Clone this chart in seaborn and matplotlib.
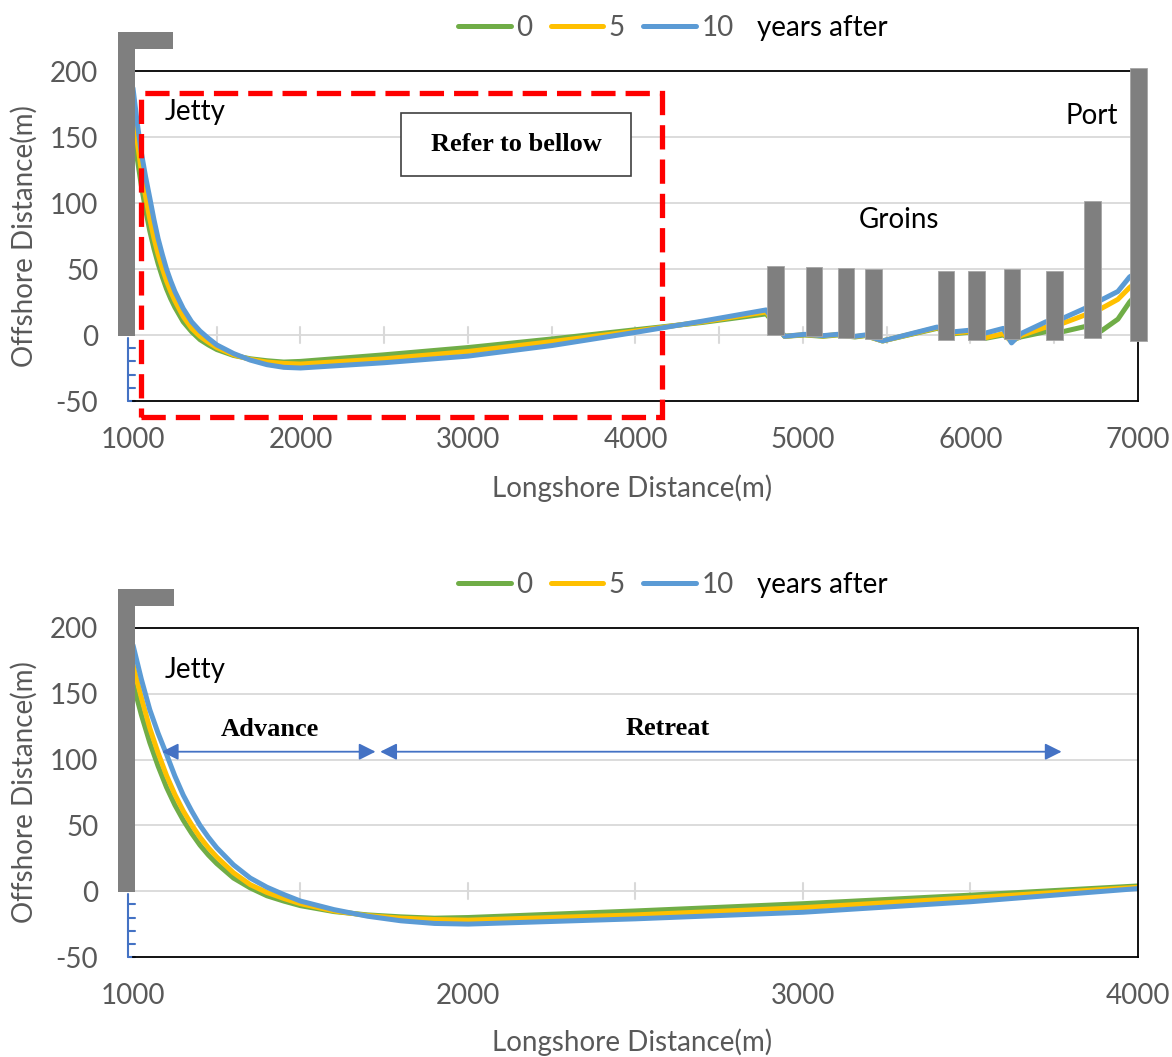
import numpy as np
import pandas as pd
import matplotlib
matplotlib.use("Agg")
import matplotlib.pyplot as plt
import seaborn as sns
from matplotlib.lines import Line2D
from matplotlib.patches import Rectangle
from matplotlib.transforms import blended_transform_factory

# ---------------- data ----------------
years = ["0", "5", "10"]
line_colors = ["#70AD47", "#FFC000", "#5B9BD5"]

x_near = [1000, 1025, 1050, 1075, 1100, 1125, 1150, 1175, 1200, 1225, 1250, 1300,
          1350, 1400, 1450, 1500, 1600, 1700, 1800, 1900, 2000, 2500, 3000, 3500, 4000]
y0_near = [158, 134, 113, 95, 79, 65.5, 54, 44, 35, 27.5, 21, 10,
           2.5, -3.5, -7.5, -11, -15.5, -18, -19.5, -20.5, -20, -15, -9.5, -3, 4]
y5_near = [172, 147, 124, 105, 88, 73.5, 61, 50.5, 41, 33, 26, 14,
           5, -1, -5.5, -9.5, -15, -18.5, -20.5, -21.5, -22, -18, -12.5, -5, 3]
y10_near = [187, 161, 138, 120, 104, 87.5, 73, 61, 50, 41, 33, 20,
            10, 3, -2.5, -7.5, -14, -19, -22.5, -24.5, -25, -21, -16, -8, 2]

x_far = [4400, 4780, 4890, 5010, 5120, 5205, 5310, 5370, 5475, 5800, 5905, 5985,
         6090, 6195, 6245, 6300, 6450, 6550, 6680, 6780, 6880, 6950, 7000]
y0_far = [9.5, 16, -1, 0, -1, 0, -1.5, -0.5, -4.5, 5, 1, 2,
          -2.5, 0, -4, -1.5, 2.5, 2.5, 6.3, 3, 12, 25, 32]
y5_far = [10, 17.5, -1, 0.3, -0.7, 0.3, -1.2, -0.3, -4.5, 5.5, 1.5, 2.5,
          -2, 1, -5, -0.5, 6, 8.8, 15, 20, 27, 36, 41]
y10_far = [10.5, 19, -1, 0.5, -0.5, 0.5, -1, 0, -4.5, 6, 2.5, 3.5,
           1.5, 5, -6, 1, 10, 12.6, 20, 26.5, 33, 44, 48]

# groins and port (centre x, top, bottom) in metres
groin_x = [4836, 5066, 5257, 5421, 5854, 6036, 6248, 6501, 6729, 7005]
groin_top = [52.5, 51.7, 50.7, 49.7, 48.7, 48.7, 49.7, 48.7, 101.7, 202]
groin_bottom = [0, -1, -2, -3, -4, -4, -3, -4, -2, -4.3]
groin_width = 100

# jetty per panel: left, stem right, arm right, bottom, arm bottom, top
jetty_top = [912, 1012, 1239, -0.5, 217, 229.7]
jetty_bottom = [956, 1006, 1122, -0.5, 217, 230]

x_ticks_top = [1000, 2000, 3000, 4000, 5000, 6000, 7000]
x_ticks_bottom = [1000, 2000, 3000, 4000]
y_ticks = [-50, 0, 50, 100, 150, 200]

# ---------------- style ----------------
sns.set_style("white")
plt.rcParams["font.family"] = ["Lato", "DejaVu Sans"]
plt.rcParams["axes.unicode_minus"] = False
FS = 20
FS_SERIF = 19
GREY_TXT = "#595959"
GRID = "#D9D9D9"
BAR = "#7F7F7F"
ARROW = "#4472C4"
LW = 3.6


def make_df(xs, ys_list):
    frames = []
    for yr, ys in zip(years, ys_list):
        frames.append(pd.DataFrame({"x": xs, "y": ys, "year": yr}))
    return pd.concat(frames, ignore_index=True)


df_top = make_df(x_near + x_far,
                 [y0_near + y0_far, y5_near + y5_far, y10_near + y10_far])
df_bot = make_df(x_near, [y0_near, y5_near, y10_near])

fig = plt.figure(figsize=(11.72, 10.57), dpi=100)
W, H = 1172, 1057
ax1 = fig.add_axes([133 / W, 1 - 401 / H, 1005 / W, 330 / H])
ax2 = fig.add_axes([133 / W, 1 - 957 / H, 1005 / W, 329 / H])


def style_axes(ax, xlim, xticks, jetty):
    ax.set_xlim(*xlim)
    ax.set_ylim(-50, 200)
    ax.set_xticks(xticks)
    ax.set_yticks(y_ticks)
    ax.tick_params(axis="both", length=0, labelsize=FS, labelcolor=GREY_TXT)
    ax.tick_params(axis="y", pad=25)
    ax.tick_params(axis="x", pad=19)
    for s in ax.spines.values():
        s.set_color("black")
        s.set_linewidth(1.3)
    ax.spines["left"].set_visible(False)
    for yv in [0, 50, 100, 150]:
        ax.axhline(yv, color=GRID, lw=1.3, zorder=0)
    # small ticks along the zero line every 500 m
    for xv in np.arange(xlim[0] + 500, xlim[1], 500):
        ax.plot([xv, xv], [-6, 6], color=GRID, lw=1.5, zorder=0)
    # blue secondary-axis stub
    tr = blended_transform_factory(ax.transAxes, ax.transData)
    ax.plot([-0.0053, -0.0053], [-2, -50], color=ARROW, lw=1.5, transform=tr,
            clip_on=False, zorder=1)
    for yv in [-10, -20, -30, -40, -50]:
        ax.plot([-0.0053, 0.002], [yv, yv], color=ARROW, lw=1.5, transform=tr,
                clip_on=False, zorder=1)
    ax.set_ylabel("Offshore Distance(m)", fontsize=FS, color=GREY_TXT)
    ax.yaxis.set_label_coords(-0.0945, 0.5)
    ax.set_xlabel("Longshore Distance(m)", fontsize=FS, color=GREY_TXT)
    # jetty
    left, stem_r, arm_r, bot, arm_b, top = jetty
    ax.bar([left], [top - bot], bottom=[bot], width=stem_r - left, align="edge",
           color=BAR, linewidth=0, clip_on=False, zorder=4)
    ax.bar([left], [top - arm_b], bottom=[arm_b], width=arm_r - left, align="edge",
           color=BAR, linewidth=0, clip_on=False, zorder=4)


def draw_lines(ax, df):
    sns.lineplot(data=df, x="x", y="y", hue="year", hue_order=years,
                 palette=line_colors, linewidth=LW, estimator=None, sort=False,
                 legend=False, ax=ax, solid_capstyle="round",
                 solid_joinstyle="round", zorder=2)


# ---------------- top panel ----------------
draw_lines(ax1, df_top)
style_axes(ax1, (1000, 7000), x_ticks_top, jetty_top)
ax1.xaxis.set_label_coords(0.4965, -0.222)
gb = np.array(groin_bottom)
gt = np.array(groin_top)
ax1.bar(groin_x, gt - gb, bottom=gb, width=groin_width, color=BAR,
        edgecolor="#A6A6A6", linewidth=0.6, clip_on=False, zorder=4)

ax1.add_patch(Rectangle((1048, -62), 4158 - 1048, 183 + 62, fill=False,
                        edgecolor="#FF0000", lw=3.8, linestyle=(0, (4.6, 1.9)),
                        clip_on=False, zorder=6))
ax1.add_patch(Rectangle((2600, 120.5), 3973 - 2600, 168 - 120.5, facecolor="white",
                        edgecolor="#404040", lw=1.2, zorder=7))
ax1.text(3287, 144, "Refer to bellow", ha="center", va="center", fontsize=FS_SERIF,
         fontweight="bold", family="Liberation Serif", color="black", zorder=8)
ax1.text(1191, 169, "Jetty", ha="left", va="center", fontsize=FS, color="black")
ax1.text(6881, 166, "Port", ha="right", va="center", fontsize=FS, color="black")
ax1.text(5573, 87, "Groins", ha="center", va="center", fontsize=FS, color="black")

# ---------------- bottom panel ----------------
draw_lines(ax2, df_bot)
style_axes(ax2, (1000, 4000), x_ticks_bottom, jetty_bottom)
ax2.xaxis.set_label_coords(0.4965, -0.217)
ax2.text(1095, 168, "Jetty", ha="left", va="center", fontsize=FS, color="black")
arrow_style = "<|-|>,head_length=0.5,head_width=0.25"
ax2.annotate("", xy=(1086, 106), xytext=(1724, 106),
             arrowprops=dict(arrowstyle=arrow_style, color=ARROW, lw=1.3,
                             mutation_scale=20, shrinkA=0, shrinkB=0), zorder=5)
ax2.annotate("", xy=(1738, 106), xytext=(3772, 106),
             arrowprops=dict(arrowstyle=arrow_style, color=ARROW, lw=1.3,
                             mutation_scale=20, shrinkA=0, shrinkB=0), zorder=5)
ax2.text(1409, 123, "Advance", ha="center", va="center", fontsize=FS_SERIF,
         fontweight="bold", family="Liberation Serif", color="black")
ax2.text(2597, 124, "Retreat", ha="center", va="center", fontsize=FS_SERIF,
         fontweight="bold", family="Liberation Serif", color="black")

# ---------------- legends ----------------
handles = [Line2D([], [], color=c, lw=LW, solid_capstyle="round") for c in line_colors]
for ycen in [28, 585]:
    fig.legend(handles, years, loc="center left",
               bbox_to_anchor=(458 / W, 1 - ycen / H), ncol=3, frameon=False,
               fontsize=FS, labelcolor=GREY_TXT, handlelength=1.9,
               handletextpad=0.2, columnspacing=0.65, borderpad=0,
               borderaxespad=0)
    fig.text(757 / W, 1 - ycen / H, "years after", ha="left", va="center",
             fontsize=FS, color="black")

fig.savefig("out.png", dpi=100)
